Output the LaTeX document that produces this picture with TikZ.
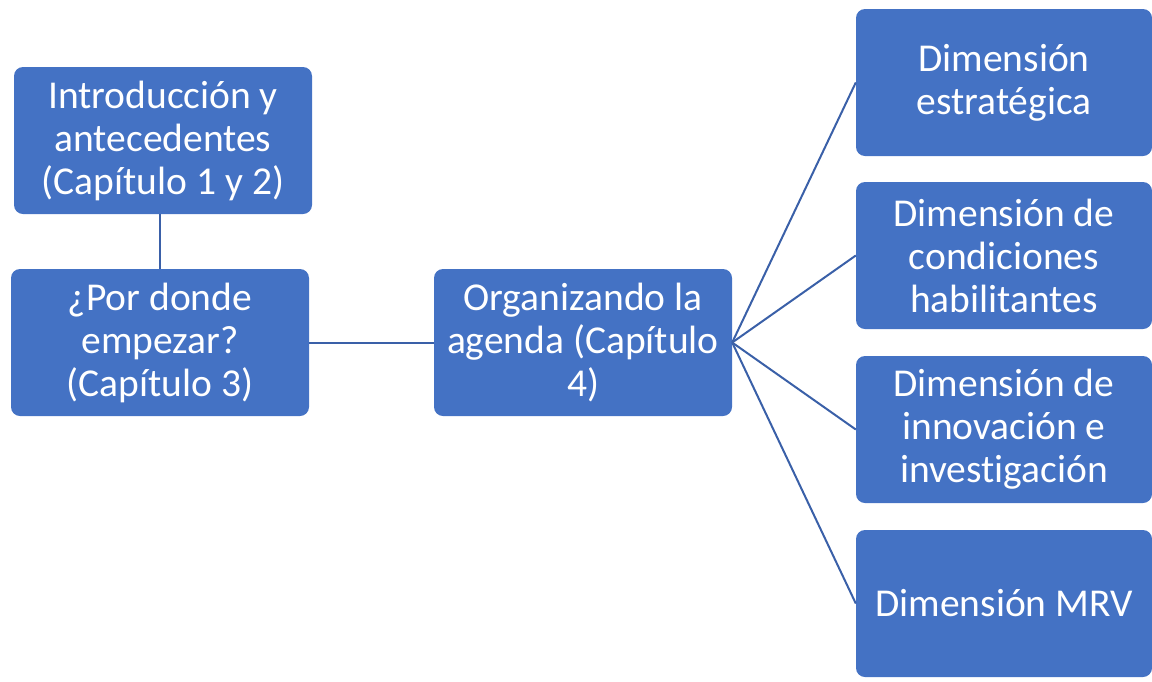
\documentclass[tikz,border=0pt]{standalone}
\usepackage{fontspec}
\setmainfont{Carlito}[Ligatures=NoCommon]
\definecolor{boxblue}{HTML}{4472C4}
\definecolor{lineblue}{HTML}{3A60A8}
\begin{document}
\begin{tikzpicture}[x=1pt,y=-1pt,
  box/.style={draw=none,fill=boxblue,rounded corners=9pt,minimum width=298pt,minimum height=147pt,
    inner sep=0pt,align=center,text=white,font=\fontsize{39.5}{43}\selectfont},
  link/.style={draw=lineblue,line width=2pt}]
\useasboundingbox (0,0) rectangle (1152,681);
\node[box] (intro) at (163,140.5) {Introducción y\\antecedentes\\(Capítulo 1 y 2)};
\node[box] (donde) at (160,342.5) {¿Por donde\\empezar?\\(Capítulo 3)};
\node[box] (agenda) at (583,342.5) {Organizando la\\agenda (Capítulo\\4)};
\node[box,minimum width=296pt] (estr) at (1004,82.5) {Dimensión\\estratégica};
\node[box,minimum width=296pt] (cond) at (1004,255.5) {Dimensión de\\condiciones\\habilitantes};
\node[box,minimum width=296pt] (innov) at (1004,429.5) {Dimensión de\\innovación e\\investigación};
\node[box,minimum width=296pt] (mrv) at (1004,603.5) {Dimensión MRV};
\draw[link] (donde.north) -- (donde.north |- intro.south);
\draw[link] (donde.east) -- (agenda.west);
\draw[link] (agenda.east) -- (estr.west);
\draw[link] (agenda.east) -- (cond.west);
\draw[link] (agenda.east) -- (innov.west);
\draw[link] (agenda.east) -- (mrv.west);
\end{tikzpicture}
\end{document}
